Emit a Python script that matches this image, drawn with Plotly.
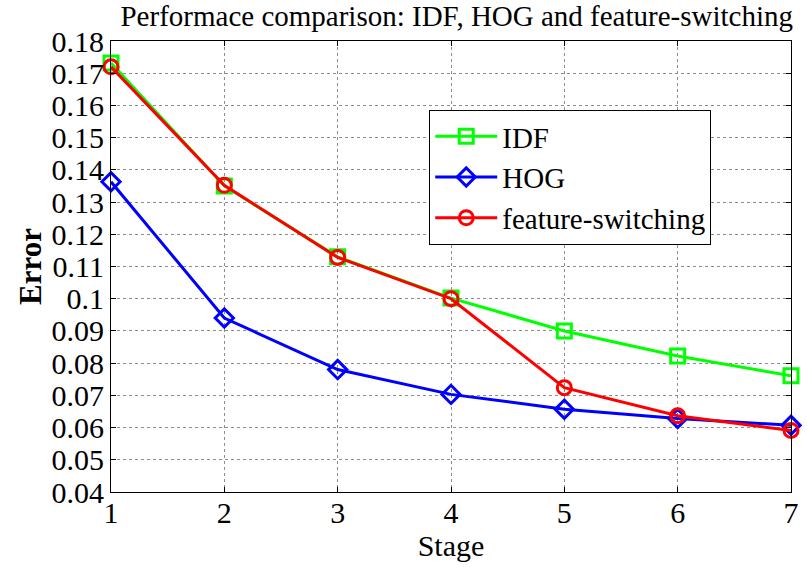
import plotly.graph_objects as go

stages = [1, 2, 3, 4, 5, 6, 7]
idf = [0.1732, 0.1350, 0.1130, 0.1002, 0.0900, 0.0822, 0.0761]
hog = [0.1363, 0.0940, 0.0780, 0.0703, 0.0657, 0.0628, 0.0607]
fsw = [0.1720, 0.1352, 0.1128, 0.1000, 0.0724, 0.0637, 0.0591]
yticks = [0.04, 0.05, 0.06, 0.07, 0.08, 0.09, 0.1, 0.11, 0.12, 0.13, 0.14, 0.15, 0.16, 0.17, 0.18]
ytext = ["0.04", "0.05", "0.06", "0.07", "0.08", "0.09", "0.1", "0.11", "0.12", "0.13", "0.14", "0.15", "0.16", "0.17", "0.18"]

FONT = "'Liberation Serif', 'Times New Roman', serif"

fig = go.Figure()
series = [
    ("IDF", idf, "#00ff00", "square-open"),
    ("HOG", hog, "#0000ff", "diamond-open"),
    ("feature-switching", fsw, "#ff0000", "circle-open"),
]
for name, ys, col, sym in series:
    fig.add_trace(go.Scatter(
        x=stages, y=ys, name=name, mode="lines+markers",
        line=dict(color=col, width=3),
        marker=dict(symbol=sym, size=14, color=col, line=dict(width=3, color=col)),
        cliponaxis=False,
    ))

axis_common = dict(
    showline=True, linecolor="black", linewidth=1, mirror="ticks",
    ticks="inside", ticklen=5, tickcolor="black",
    showgrid=True, gridcolor="#8c8c8c", griddash="dot", gridwidth=1,
    zeroline=False,
    tickfont=dict(family=FONT, size=30, color="black"),
)

fig.update_layout(
    width=807, height=567,
    margin=dict(l=111, r=8, t=41, b=75),
    paper_bgcolor="white", plot_bgcolor="white",
    font=dict(family=FONT, color="black"),
    title=dict(text="Performace comparison: IDF, HOG and feature-switching",
               x=0.566, xanchor="center", y=0.972, yanchor="middle",
               font=dict(family=FONT, size=29, color="black")),
    xaxis=dict(range=[1, 7], tickvals=stages, ticktext=[str(s) for s in stages],
               ticklabelstandoff=-6,
               title=dict(text="Stage", font=dict(family=FONT, size=30), standoff=4),
               **axis_common),
    yaxis=dict(range=[0.04, 0.18], tickvals=yticks, ticktext=ytext,
               title=dict(text="<b>Error</b>", font=dict(family=FONT, size=31), standoff=0),
               **axis_common),
    legend=dict(x=0.468, y=0.847, xanchor="left", yanchor="top",
                bgcolor="white", bordercolor="black", borderwidth=1,
                font=dict(family=FONT, size=29, color="black"),
                itemwidth=62, tracegroupgap=0),
    showlegend=True,
)

fig.write_html("out.html")
